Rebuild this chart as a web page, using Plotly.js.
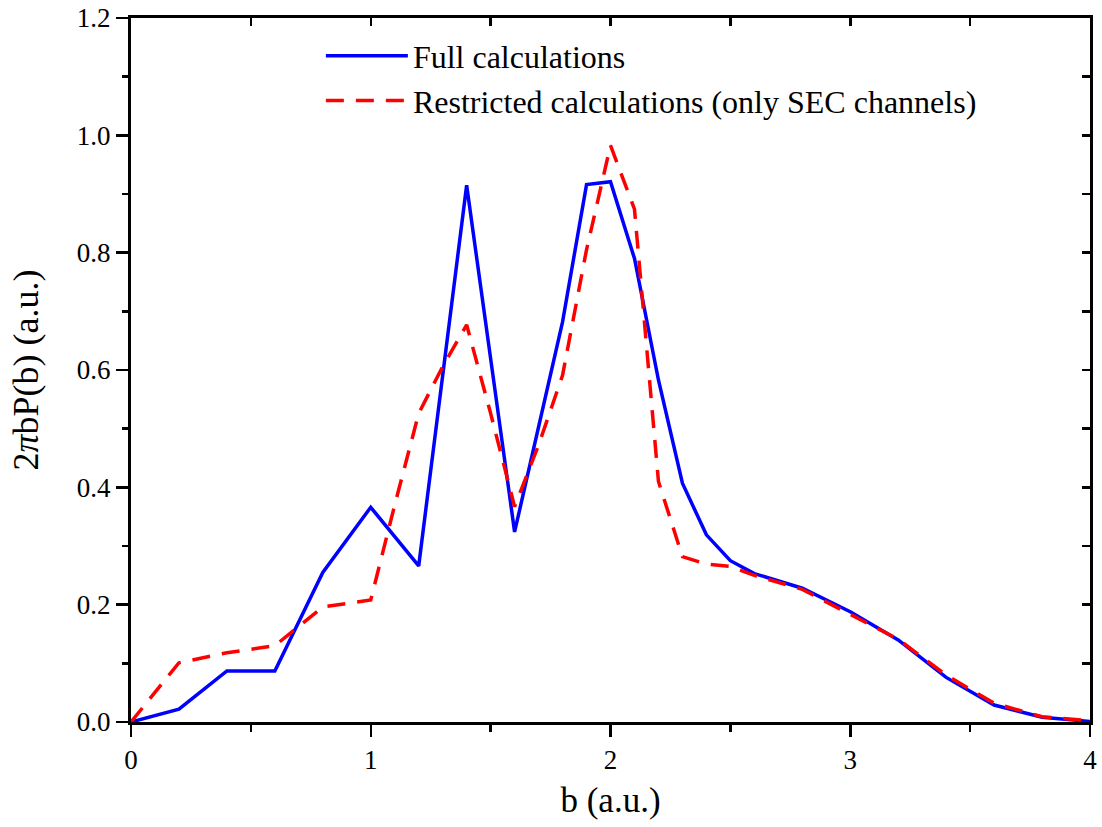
<!DOCTYPE html>
<html>
<head>
<meta charset="utf-8">
<script src="https://cdn.plot.ly/plotly-3.0.1.min.js"></script>
<style>html,body{margin:0;padding:0;background:#fff;}#chart{width:1102px;height:827px;}</style>
</head>
<body>
<div id="chart"></div>
<script>
// Full calculations
const fullB = [0, 0.2, 0.4, 0.6, 0.8, 1.0, 1.2, 1.4, 1.6, 1.8, 1.9, 2.0, 2.1, 2.2, 2.3, 2.4, 2.5, 2.6, 2.8, 3.0, 3.2, 3.4, 3.6, 3.8, 4.0];
const fullP = [0, 0.022, 0.087, 0.087, 0.255, 0.366, 0.266, 0.915, 0.324, 0.682, 0.916, 0.921, 0.790, 0.583, 0.407, 0.319, 0.275, 0.253, 0.228, 0.188, 0.140, 0.076, 0.029, 0.008, 0.001];
// Restricted calculations (only SEC channels)
const restB = [0, 0.2, 0.4, 0.6, 0.8, 1.0, 1.1, 1.2, 1.3, 1.4, 1.5, 1.6, 1.7, 1.8, 1.9, 2.0, 2.1, 2.2, 2.3, 2.4, 2.5, 2.6, 2.8, 3.0, 3.2, 3.4, 3.6, 3.8, 4.0];
const restP = [0, 0.101, 0.118, 0.130, 0.196, 0.208, 0.370, 0.526, 0.606, 0.677, 0.526, 0.367, 0.472, 0.591, 0.805, 0.983, 0.874, 0.410, 0.282, 0.269, 0.265, 0.250, 0.226, 0.183, 0.141, 0.080, 0.032, 0.009, 0.002];

const xTicks = [0, 1, 2, 3, 4];
const yTicks = [0, 0.2, 0.4, 0.6, 0.8, 1.0, 1.2];
const yTickText = ['0.0', '0.2', '0.4', '0.6', '0.8', '1.0', '1.2'];

const serif = 'Liberation Serif, Times New Roman, serif';

const traces = [
  {x: fullB, y: fullP, type: 'scatter', mode: 'lines', name: 'Full calculations',
   line: {color: '#0000ff', width: 3.5}},
  {x: restB, y: restP, type: 'scatter', mode: 'lines', name: 'Restricted calculations (only SEC channels)',
   line: {color: '#ff0000', width: 3.5, dash: '18px,12px'}},
  // frame axes (top/right) carrier, no visible marks
  {x: [null], y: [null], xaxis: 'x2', yaxis: 'y2', type: 'scatter', mode: 'lines',
   showlegend: false, hoverinfo: 'skip'}
];

const layout = {
  width: 1102, height: 827,
  margin: {l: 131, r: 12, t: 18, b: 105},
  paper_bgcolor: '#fff', plot_bgcolor: '#fff',
  showlegend: true,
  legend: {x: 0.198, y: 0.985, xanchor: 'left', yanchor: 'top', bgcolor: 'rgba(0,0,0,0)',
           font: {family: serif, size: 32, color: '#000'}, itemwidth: 82, tracegroupgap: 0},
  xaxis: {range: [0, 4], tickvals: xTicks, ticktext: xTicks.map(String),
          showgrid: false, zeroline: false, showline: true, linewidth: 3, linecolor: '#000',
          ticks: 'outside', ticklen: 12, tickwidth: 2.5, tickcolor: '#000',
          minor: {dtick: 0.5, tick0: 0, ticks: 'outside', ticklen: 7, tickwidth: 2.5, tickcolor: '#000', showgrid: false},
          tickfont: {family: serif, size: 27, color: '#000'},
          title: {text: 'b (a.u.)', font: {family: serif, size: 35, color: '#000'}, standoff: 14}},
  yaxis: {range: [0, 1.2], tickvals: yTicks, ticktext: yTickText,
          showgrid: false, zeroline: false, showline: true, linewidth: 3, linecolor: '#000',
          ticks: 'outside', ticklen: 12, tickwidth: 2.5, tickcolor: '#000',
          minor: {dtick: 0.1, tick0: 0, ticks: 'outside', ticklen: 6, tickwidth: 2.5, tickcolor: '#000', showgrid: false},
          tickfont: {family: serif, size: 27, color: '#000'},
          title: {text: '2<i>π</i>bP(b) (a.u.)', font: {family: serif, size: 36, color: '#000'}, standoff: 28}},
  xaxis2: {range: [0, 4], overlaying: 'x', side: 'top', anchor: 'y2', tickvals: xTicks,
           showticklabels: false, showgrid: false, zeroline: false, showline: true, linewidth: 3, linecolor: '#000',
           ticks: 'inside', ticklen: 8, tickwidth: 2.5, tickcolor: '#000',
           minor: {dtick: 0.5, tick0: 0, ticks: 'inside', ticklen: 8, tickwidth: 2.5, tickcolor: '#000'}},
  yaxis2: {range: [0, 1.2], overlaying: 'y', side: 'right', anchor: 'x2', tickvals: yTicks,
           showticklabels: false, showgrid: false, zeroline: false, showline: true, linewidth: 3, linecolor: '#000',
           ticks: 'inside', ticklen: 8, tickwidth: 2.5, tickcolor: '#000',
           minor: {dtick: 0.1, tick0: 0, ticks: 'inside', ticklen: 8, tickwidth: 2.5, tickcolor: '#000'}}
};

Plotly.newPlot('chart', traces, layout, {displayModeBar: false, staticPlot: true});
</script>
</body>
</html>
